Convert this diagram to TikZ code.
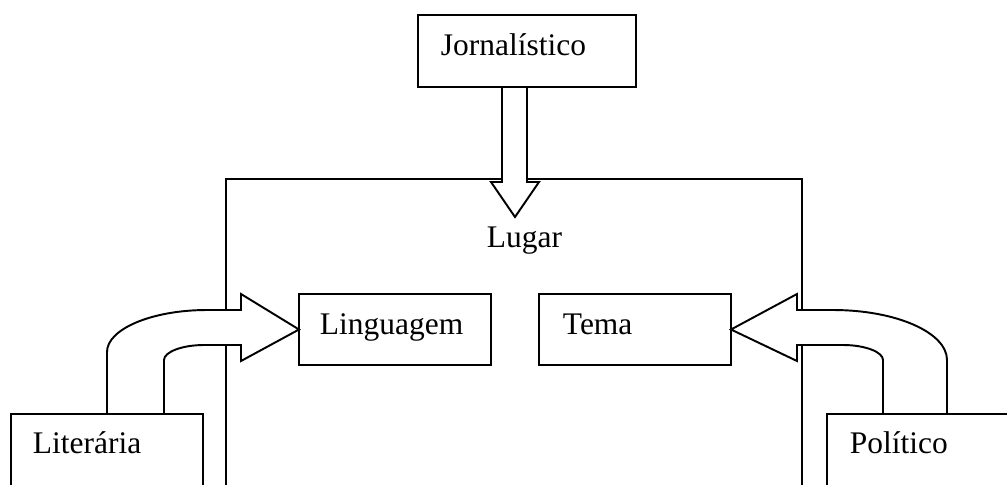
\documentclass[tikz,border=0pt]{standalone}
\usepackage{fontspec}
\setmainfont{Liberation Serif}

\begin{document}
\begin{tikzpicture}[x=0.02cm, y=-0.02cm, line width=1.1pt,
  font=\fontsize{17.9pt}{20pt}\selectfont,
  box/.style={draw, rectangle, inner sep=0pt, outer sep=0pt},
  lbl/.style={anchor=base west, inner sep=0pt},
  blockarrow/.style={draw, fill=white, line join=miter}]

\useasboundingbox (0,0) rectangle (1007,484);
\clip (0,0) rectangle (1007,484);

\node (lugar) at (514,359.5) [box, minimum width=11.52cm, minimum height=7.22cm] {};
\node (lugarlbl) at (486,247) [lbl] {Lugar};

\node (jorn) at (527,51) [box, minimum width=4.36cm, minimum height=1.44cm] {};
\node (ling) at (395,329.5) [box, minimum width=3.84cm, minimum height=1.42cm] {};
\node (tema) at (635,329.5) [box, minimum width=3.84cm, minimum height=1.42cm] {};
\node (lit) at (107,467) [box, minimum width=3.84cm, minimum height=2.12cm] {};
\node (pol) at (933.5,467) [box, minimum width=4.26cm, minimum height=2.12cm] {};

\node (jornlbl) at (440,55) [lbl] {Jornalístico};
\node (linglbl) at (319,334) [lbl] {Linguagem};
\node (temalbl) at (562,334) [lbl] {Tema};
\node (litlbl) at (32,453) [lbl] {Literária};
\node (pollbl) at (849,453) [lbl] {Político};

\coordinate (jtip) at (515,217);

\draw [blockarrow] (502,0 |- jorn.south) -- (502,182) -- (491,182) -- (jtip)
  -- (539,182) -- (527,182) -- (527,0 |- jorn.south) -- cycle;

\draw [blockarrow] (107,0 |- lit.north) -- (107,352)
  .. controls (107,329) and (152,310) .. (207,310) -- (241,310) -- (241,294)
  -- (ling.west) -- (241,361) -- (241,345) -- (204,345)
  .. controls (182,345) and (164,352) .. (164,360) -- (164,0 |- lit.north) -- cycle;

\draw [blockarrow] (947,0 |- pol.north) -- (947,360)
  .. controls (947,332.5) and (896,310) .. (833,310) -- (797,310) -- (797,294)
  -- (tema.east) -- (797,361) -- (797,345) -- (843,345)
  .. controls (865,345) and (883,352) .. (883,360) -- (883,0 |- pol.north) -- cycle;

\end{tikzpicture}
\end{document}
